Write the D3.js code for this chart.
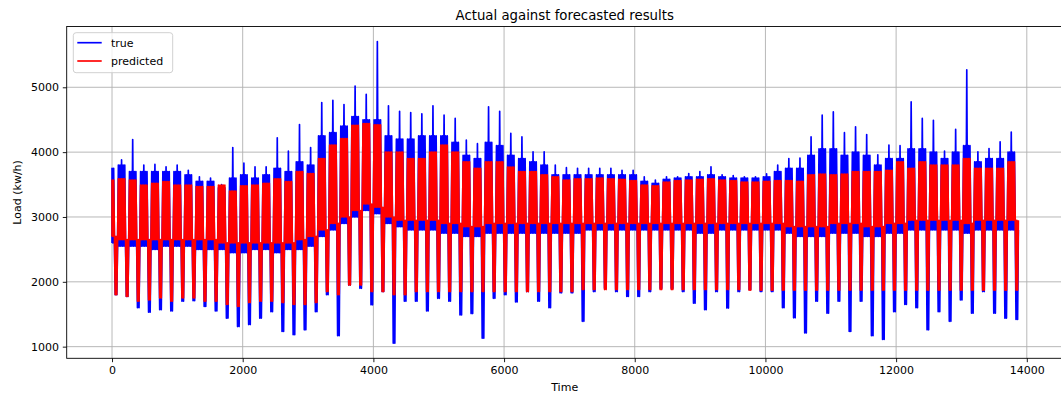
<!DOCTYPE html>
<html>
<head>
<meta charset="utf-8">
<script src="https://cdn.jsdelivr.net/npm/d3@7"></script>
<style>
  html, body { margin: 0; padding: 0; background: #ffffff; }
  svg { display: block; font-family: "DejaVu Sans", sans-serif; }
</style>
</head>
<body>
<svg id="chart" width="1061" height="399"></svg>
<script>
// ---------- data (one entry per week) ----------
const firstDip = 61;          // time of the first weekend dip
const weekPeriod = 170.2;     // time units between weekend dips
const weekendHalf = 24;       // half-length of a weekend
const xTicks = [0, 2000, 4000, 6000, 8000, 10000, 12000, 14000];
const yTicks = [1000, 2000, 3000, 4000, 5000];
const seriesNames = ["true", "predicted"];

const trueMax = [3880,3880,4195,3800,3810,3775,3800,3720,3620,3600,3500,4070,
  3830,3775,3775,4220,4015,4425,4070,4765,4800,4735,5020,4890,5705,4715,4630,
  4610,4590,4715,4570,4520,4185,4130,4700,4630,4290,4235,4005,4005,3800,3760,
  3750,3750,3750,3750,3720,3720,3620,3570,3620,3620,3670,3700,3775,3650,3640,
  3620,3620,3665,3800,3900,3910,4235,4570,4620,4300,4390,4270,3960,4110,4100,
  4775,4520,4490,4015,4350,5270,4005,4055,4160,4310];
const trueTop = [3750,3800,3700,3700,3700,3700,3700,3650,3550,3550,3450,3600,
  3650,3600,3650,3750,3700,3850,3800,4250,4300,4400,4550,4500,4500,4250,4200,
  4200,4250,4250,4250,4150,3950,3900,4150,4100,3950,3900,3850,3800,3650,3650,
  3650,3650,3650,3650,3650,3650,3550,3520,3580,3600,3620,3620,3650,3620,3600,
  3600,3600,3620,3700,3750,3750,3950,4050,4050,3950,4000,3950,3800,3900,3900,
  4050,4050,4000,3900,4000,4100,3850,3900,3900,4000];
const trueBase = [2600,2550,2550,2550,2500,2550,2550,2550,2500,2500,2500,2450,
  2450,2500,2500,2450,2500,2500,2550,2700,2800,2900,3000,3100,3050,2900,2850,
  2800,2800,2800,2750,2750,2700,2700,2750,2750,2750,2750,2750,2750,2750,2750,
  2750,2800,2800,2800,2800,2800,2800,2800,2800,2800,2800,2750,2750,2800,2800,
  2800,2800,2800,2800,2750,2700,2700,2700,2750,2750,2750,2700,2700,2750,2750,
  2800,2800,2800,2800,2800,2750,2800,2800,2800,2800];
const trueDip = [1800,1775,1600,1530,1570,1550,1700,1710,1620,1550,1440,1310,
  1340,1440,1540,1235,1185,1260,1540,1800,1170,1950,1900,1645,1850,1053,1700,
  1700,1550,1745,1700,1490,1510,1130,1745,1800,1690,1850,1700,1600,1830,1830,
  1390,1850,1900,1850,1775,1775,1850,1900,1900,1850,1670,1570,1850,1595,1850,
  1880,1850,1850,1600,1445,1210,1700,1515,1700,1235,1700,1170,1110,1540,1650,
  1600,1260,1540,1390,1720,1515,1850,1515,1440,1420];

const predTop = [3570,3590,3570,3490,3520,3545,3490,3490,3470,3470,3490,3400,
  3480,3490,3520,3590,3545,3700,3670,3900,4110,4210,4415,4440,4420,4000,4000,
  3900,3900,4000,4110,4000,3850,3750,3850,3850,3770,3700,3700,3650,3620,3570,
  3590,3590,3600,3590,3580,3560,3490,3480,3540,3560,3570,3580,3590,3570,3560,
  3540,3540,3550,3560,3560,3550,3650,3660,3650,3660,3700,3700,3700,3720,3850,
  3750,3850,3800,3800,3800,3900,3750,3750,3750,3850];
const predBase = [2700,2650,2650,2650,2650,2650,2650,2650,2650,2650,2600,2600,
  2600,2600,2600,2600,2600,2650,2700,2800,2900,3000,3100,3200,3150,3000,2950,
  2950,2950,2950,2900,2900,2850,2850,2900,2900,2900,2900,2900,2900,2900,2900,
  2900,2900,2900,2900,2900,2900,2900,2900,2900,2900,2900,2900,2900,2900,2900,
  2900,2900,2900,2900,2850,2850,2850,2850,2900,2900,2900,2850,2850,2900,2900,
  2950,2950,2950,2950,2950,2900,2950,2950,2950,2950];
const predDip = [1800,1775,1700,1720,1750,1700,1750,1750,1700,1700,1650,1620,
  1680,1700,1700,1680,1650,1650,1680,1850,1800,1950,1950,1850,1850,1800,1800,
  1850,1850,1850,1850,1850,1850,1850,1850,1850,1850,1850,1850,1850,1850,1850,
  1880,1880,1880,1880,1880,1880,1880,1880,1880,1880,1880,1880,1880,1880,1880,
  1870,1870,1870,1870,1870,1870,1870,1870,1870,1870,1870,1870,1870,1870,1870,
  1870,1870,1870,1870,1870,1870,1870,1870,1870,1870];

// ---------- build the traces: weekday days (night/day), then the weekend dip ----------
function buildSeries(top, base, dip, max) {
  const pts = [];
  const dayLen = (weekPeriod - 2 * weekendHalf) / 5;
  top.forEach((_, k) => {
    const td = firstDip + k * weekPeriod;
    const ws = td - weekPeriod + weekendHalf;
    for (let j = 0; j < 5; j++) {
      pts.push([ws + j * dayLen, base[k]]);
      pts.push([ws + (j + 0.5) * dayLen, (max && j === 2) ? max[k] : top[k]]);
    }
    pts.push([td - weekendHalf, base[k]]);
    pts.push([td - weekendHalf / 2, dip[k]]);
    pts.push([td, base[k]]);
    pts.push([td + weekendHalf / 2, dip[k]]);
  });
  const last = top.length - 1;
  pts.push([firstDip + last * weekPeriod + weekendHalf, base[last]]);
  const out = pts.filter(p => p[0] >= 0);
  out.unshift([0, base[0]]);
  return out;
}
const trueSeries = buildSeries(trueTop, trueBase, trueDip, trueMax);
const predSeries = buildSeries(predTop, predBase, predDip, null);

// ---------- layout ----------
const svg = d3.select("#chart");
const plot = { left: 66.7, top: 26.5, width: 997, height: 331.8 };
const allT = trueSeries.concat(predSeries).map(p => p[0]);
const allV = trueSeries.concat(predSeries).map(p => p[1]);
const [tMin, tMax] = d3.extent(allT);
const [vMin, vMax] = d3.extent(allV);
const tPad = (tMax - tMin) * 0.05, vPad = (vMax - vMin) * 0.05;

const x = d3.scaleLinear().domain([tMin - tPad, tMax + tPad]).range([plot.left, plot.left + plot.width]);
const y = d3.scaleLinear().domain([vMin - vPad, vMax + vPad]).range([plot.top + plot.height, plot.top]);

svg.append("defs").append("clipPath").attr("id", "clip")
  .append("rect").attr("x", plot.left).attr("y", plot.top)
  .attr("width", plot.width).attr("height", plot.height);

// grid
const grid = svg.append("g").attr("stroke", "#b0b0b0").attr("stroke-width", 0.9);
grid.selectAll("line.gx").data(xTicks).join("line")
  .attr("x1", d => x(d)).attr("x2", d => x(d))
  .attr("y1", plot.top).attr("y2", plot.top + plot.height);
grid.selectAll("line.gy").data(yTicks).join("line")
  .attr("x1", plot.left).attr("x2", plot.left + plot.width)
  .attr("y1", d => y(d)).attr("y2", d => y(d));

// lines
const line = d3.line().x(d => x(d[0])).y(d => y(d[1]));
const lines = svg.append("g").attr("clip-path", "url(#clip)");
lines.append("path").attr("d", line(trueSeries)).attr("fill", "none")
  .attr("stroke", "#0000ff").attr("stroke-width", 1.67).attr("stroke-linejoin", "round");
lines.append("path").attr("d", line(predSeries)).attr("fill", "none")
  .attr("stroke", "#ff0000").attr("stroke-width", 1.67).attr("stroke-linejoin", "round");

// axes
const xAxis = d3.axisBottom(x).tickValues(xTicks).tickFormat(d3.format("d"))
  .tickSizeInner(3.9).tickSizeOuter(0).tickPadding(3.9);
const yAxis = d3.axisLeft(y).tickValues(yTicks).tickFormat(d3.format("d"))
  .tickSizeInner(3.9).tickSizeOuter(0).tickPadding(3.9);

const gx = svg.append("g").attr("transform", `translate(0,${plot.top + plot.height})`).call(xAxis);
const gy = svg.append("g").attr("transform", `translate(${plot.left},0)`).call(yAxis);
[gx, gy].forEach(g => {
  g.select(".domain").remove();
  g.selectAll(".tick line").attr("stroke", "#000").attr("stroke-width", 0.9);
  g.selectAll(".tick text").attr("fill", "#000").attr("font-size", "11px")
    .attr("font-family", "DejaVu Sans");
});

// spines
svg.append("rect").attr("x", plot.left).attr("y", plot.top)
  .attr("width", plot.width).attr("height", plot.height)
  .attr("fill", "none").attr("stroke", "#000").attr("stroke-width", 0.9);

// title and labels
svg.append("text").attr("x", plot.left + plot.width / 2 - 0.5).attr("y", 19.5)
  .attr("text-anchor", "middle").attr("font-size", "13.3px").attr("fill", "#000")
  .text("Actual against forecasted results");
svg.append("text").attr("x", plot.left + plot.width / 2 - 0.5).attr("y", 391)
  .attr("text-anchor", "middle").attr("font-size", "11px").attr("fill", "#000")
  .text("Time");
svg.append("text")
  .attr("transform", `translate(17,${plot.top + plot.height / 2}) rotate(-90)`)
  .attr("text-anchor", "middle").attr("dy", "0.35em").attr("font-size", "11px").attr("fill", "#000")
  .text("Load (kw/h)");

// legend
const legend = svg.append("g");
legend.append("rect").attr("x", 73.3).attr("y", 32.7).attr("width", 99.4).attr("height", 40)
  .attr("rx", 2.8).attr("fill", "#ffffff").attr("fill-opacity", 0.8)
  .attr("stroke", "#cccccc").attr("stroke-width", 0.9);
const legendColors = ["#0000ff", "#ff0000"];
seriesNames.forEach((name, i) => {
  const yy = 42.7 + i * 18.3;
  legend.append("line").attr("x1", 77.3).attr("x2", 101.7).attr("y1", yy).attr("y2", yy)
    .attr("stroke", legendColors[i]).attr("stroke-width", 1.67);
  legend.append("text").attr("x", 111).attr("y", yy).attr("dy", "0.35em")
    .attr("font-size", "11px").attr("fill", "#000").text(name);
});
</script>
</body>
</html>
